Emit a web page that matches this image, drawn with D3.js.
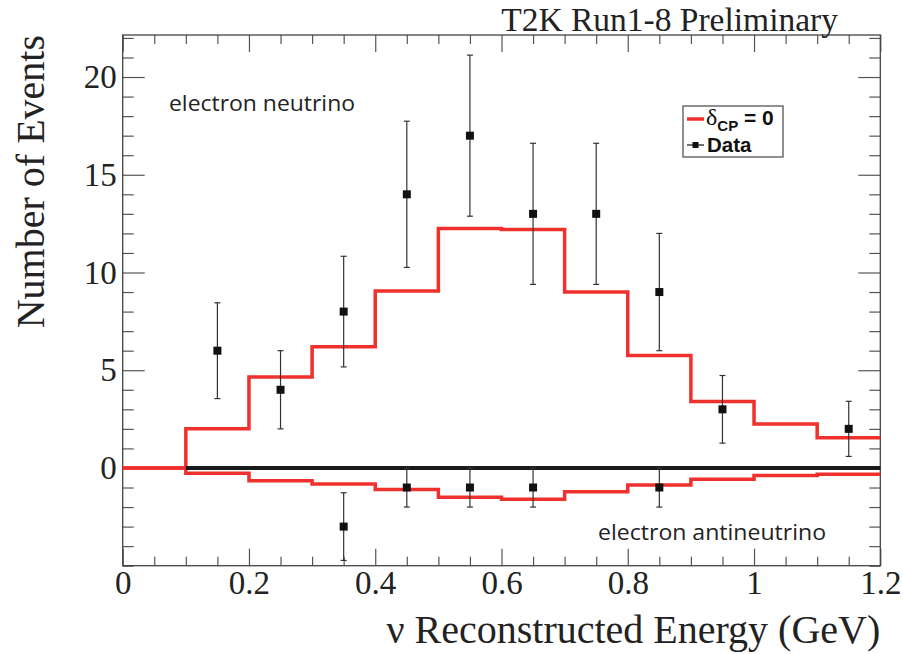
<!DOCTYPE html>
<html>
<head>
<meta charset="utf-8">
<script src="https://cdn.jsdelivr.net/npm/d3@7"></script>
<style>
  body { margin: 0; background: #fff; }
  svg { display: block; }
</style>
</head>
<body>
<svg id="viz" width="903" height="654"></svg>
<script>
// bin edges of the reconstructed energy histogram (GeV)
var binEdges = [0, 0.1, 0.2, 0.3, 0.4, 0.5, 0.6, 0.7, 0.8, 0.9, 1.0, 1.1, 1.2];

// expected events for deltaCP = 0 (antineutrino drawn as negative)
var nueExpected = [0, 2.0, 4.65, 6.2, 9.05, 12.25, 12.2, 9.0, 5.75, 3.4, 2.25, 1.55];
var nuebarExpected = [0, -0.27, -0.65, -0.82, -1.1, -1.5, -1.6, -1.22, -0.87, -0.58, -0.38, -0.32];

// observed data
var nueCenters = [0.15, 0.25, 0.35, 0.45, 0.55, 0.65, 0.75, 0.85, 0.95, 1.15];
var nueCounts = [6, 4, 8, 14, 17, 13, 13, 9, 3, 2];
var nueErrors = [2.45, 2.0, 2.83, 3.74, 4.12, 3.61, 3.61, 3.0, 1.73, 1.41];

var nuebarCenters = [0.35, 0.45, 0.55, 0.65, 0.85];
var nuebarCounts = [-3, -1, -1, -1, -1];
var nuebarErrors = [1.73, 1, 1, 1, 1];

// axis ticks
var xMajorTicks = [0, 0.2, 0.4, 0.6, 0.8, 1.0, 1.2];
var xTickLabels = ["0", "0.2", "0.4", "0.6", "0.8", "1", "1.2"];
var yMajorTicks = [0, 5, 10, 15, 20];
var yTickLabels = ["0", "5", "10", "15", "20"];

var width = 903;
var height = 654;
var margin = { left: 122.7, right: 22.7, top: 35, bottom: 88.3 };

var red = "#f0302c";
var serif = "'Liberation Serif', 'Times New Roman', serif";
var sans = "'Liberation Sans', Arial, sans-serif";

var svg = d3.select("#viz");

var x = d3.scaleLinear().domain([0, 1.2]).range([margin.left, width - margin.right]);
var y = d3.scaleLinear().domain([-5, 22.15]).range([height - margin.bottom, margin.top]);

var xMinor = d3.range(0, 1.2001, 0.05).map(function (d) { return +d.toFixed(2); })
	.filter(function (d) { return xMajorTicks.indexOf(d) < 0; });
var yMinor = d3.range(-5, 23, 1).filter(function (d) { return yMajorTicks.indexOf(d) < 0; });

function styleAxis(g) {
	g.select(".domain").remove();
	g.selectAll(".tick line").attr("stroke", "#555").attr("stroke-width", 1.2);
	g.selectAll(".tick text").attr("fill", "#222").style("font-family", serif).style("font-size", "33px");
}

// bottom axis with labels
svg.append("g")
	.attr("transform", "translate(0," + y.range()[0] + ")")
	.call(d3.axisBottom(x).tickValues(xMajorTicks).tickSizeInner(-17).tickSizeOuter(0).tickPadding(5)
		.tickFormat(function (d, i) { return xTickLabels[i]; }))
	.call(styleAxis);
svg.append("g")
	.attr("transform", "translate(0," + y.range()[0] + ")")
	.call(d3.axisBottom(x).tickValues(xMinor).tickSizeInner(-9).tickSizeOuter(0).tickFormat(""))
	.call(styleAxis);

// top axis, ticks only
svg.append("g")
	.attr("transform", "translate(0," + y.range()[1] + ")")
	.call(d3.axisTop(x).tickValues(xMajorTicks).tickSizeInner(-17).tickSizeOuter(0).tickFormat(""))
	.call(styleAxis);
svg.append("g")
	.attr("transform", "translate(0," + y.range()[1] + ")")
	.call(d3.axisTop(x).tickValues(xMinor).tickSizeInner(-9).tickSizeOuter(0).tickFormat(""))
	.call(styleAxis);

// left axis with labels
svg.append("g")
	.attr("transform", "translate(" + x.range()[0] + ",0)")
	.call(d3.axisLeft(y).tickValues(yMajorTicks).tickSizeInner(-22).tickSizeOuter(0).tickPadding(6)
		.tickFormat(function (d, i) { return yTickLabels[i]; }))
	.call(styleAxis);
svg.append("g")
	.attr("transform", "translate(" + x.range()[0] + ",0)")
	.call(d3.axisLeft(y).tickValues(yMinor).tickSizeInner(-11).tickSizeOuter(0).tickFormat(""))
	.call(styleAxis);

// right axis, ticks only
svg.append("g")
	.attr("transform", "translate(" + x.range()[1] + ",0)")
	.call(d3.axisRight(y).tickValues(yMajorTicks).tickSizeInner(-22).tickSizeOuter(0).tickFormat(""))
	.call(styleAxis);
svg.append("g")
	.attr("transform", "translate(" + x.range()[1] + ",0)")
	.call(d3.axisRight(y).tickValues(yMinor).tickSizeInner(-11).tickSizeOuter(0).tickFormat(""))
	.call(styleAxis);

// frame
svg.append("rect")
	.attr("x", x.range()[0]).attr("y", y.range()[1])
	.attr("width", x.range()[1] - x.range()[0])
	.attr("height", y.range()[0] - y.range()[1])
	.attr("fill", "none").attr("stroke", "#444").attr("stroke-width", 1.3);

// histograms
var step = d3.line()
	.x(function (d) { return x(d[0]); })
	.y(function (d) { return y(d[1]); })
	.curve(d3.curveStepAfter);

function histPoints(values) {
	var pts = values.map(function (v, i) { return [binEdges[i], v]; });
	pts.push([binEdges[binEdges.length - 1], values[values.length - 1]]);
	return pts;
}

[nuebarExpected, nueExpected].forEach(function (vals) {
	svg.append("path")
		.datum(histPoints(vals))
		.attr("d", step)
		.attr("fill", "none")
		.attr("stroke", red)
		.attr("stroke-width", 3.5)
		.attr("stroke-linejoin", "miter");
});

// zero line
svg.append("line")
	.attr("x1", x(0.1)).attr("x2", x(1.2))
	.attr("y1", y(0)).attr("y2", y(0))
	.attr("stroke", "#1a1a1a").attr("stroke-width", 4);

// data points with error bars
function drawData(centers, counts, errors) {
	var pts = centers.map(function (c, i) { return { x: c, v: counts[i], e: errors[i] }; });
	var g = svg.append("g");
	var cap = 3;
	g.selectAll("line.bar").data(pts).enter().append("line")
		.attr("x1", function (d) { return x(d.x); })
		.attr("x2", function (d) { return x(d.x); })
		.attr("y1", function (d) { return y(d.v - d.e); })
		.attr("y2", function (d) { return y(d.v + d.e); })
		.attr("stroke", "#333").attr("stroke-width", 1.2);
	["lo", "hi"].forEach(function (side) {
		g.selectAll("line." + side).data(pts).enter().append("line")
			.attr("x1", function (d) { return x(d.x) - cap; })
			.attr("x2", function (d) { return x(d.x) + cap; })
			.attr("y1", function (d) { return y(side === "lo" ? d.v - d.e : d.v + d.e); })
			.attr("y2", function (d) { return y(side === "lo" ? d.v - d.e : d.v + d.e); })
			.attr("stroke", "#333").attr("stroke-width", 1.2);
	});
	var s = 8;
	g.selectAll("rect").data(pts).enter().append("rect")
		.attr("x", function (d) { return x(d.x) - s / 2; })
		.attr("y", function (d) { return y(d.v) - s / 2; })
		.attr("width", s).attr("height", s)
		.attr("fill", "#111");
}
drawData(nueCenters, nueCounts, nueErrors);
drawData(nuebarCenters, nuebarCounts, nuebarErrors);

// titles
svg.append("text")
	.attr("x", 838).attr("y", 31)
	.attr("text-anchor", "end")
	.style("font-family", serif).style("font-size", "33.5px").attr("fill", "#222")
	.text("T2K Run1-8 Preliminary");

svg.append("text")
	.attr("x", x.range()[1]).attr("y", 643)
	.attr("text-anchor", "end")
	.style("font-family", serif).style("font-size", "40px").attr("fill", "#222")
	.text("ν Reconstructed Energy (GeV)");

svg.append("text")
	.attr("transform", "translate(44," + y.range()[1] + ") rotate(-90)")
	.attr("text-anchor", "end")
	.style("font-family", serif).style("font-size", "40px").attr("fill", "#222")
	.text("Number of Events");

// annotations
svg.append("text")
	.attr("x", 169).attr("y", 111)
	.attr("textLength", 186).attr("lengthAdjust", "spacingAndGlyphs")
	.style("font-family", "'Open Sans', sans-serif").style("font-size", "22px").attr("fill", "#222")
	.text("electron neutrino");

svg.append("text")
	.attr("x", 598).attr("y", 540)
	.attr("textLength", 228).attr("lengthAdjust", "spacingAndGlyphs")
	.style("font-family", "'Open Sans', sans-serif").style("font-size", "22px").attr("fill", "#222")
	.text("electron antineutrino");

// legend
var legend = svg.append("g").attr("transform", "translate(683,106)");
legend.append("rect")
	.attr("width", 100).attr("height", 51)
	.attr("fill", "#fff").attr("stroke", "#555").attr("stroke-width", 1.3);
legend.append("line")
	.attr("x1", 4).attr("x2", 21).attr("y1", 13).attr("y2", 13)
	.attr("stroke", red).attr("stroke-width", 3.5);
var t1 = legend.append("text").attr("x", 23).attr("y", 19).attr("fill", "#111");
t1.append("tspan").style("font-family", serif).style("font-size", "24px").text("δ");
t1.append("tspan").attr("dy", 6)
	.style("font-family", sans).style("font-weight", "bold").style("font-size", "15px")
	.text("CP");
t1.append("tspan").attr("dy", -6)
	.style("font-family", sans).style("font-weight", "bold").style("font-size", "21px")
	.text(" = 0");
legend.append("line")
	.attr("x1", 4).attr("x2", 21).attr("y1", 39).attr("y2", 39)
	.attr("stroke", "#111").attr("stroke-width", 1.2);
legend.append("rect")
	.attr("x", 9.5).attr("y", 36).attr("width", 6).attr("height", 6).attr("fill", "#111");
legend.append("text").attr("x", 24).attr("y", 46).attr("fill", "#111")
	.style("font-family", sans).style("font-weight", "bold").style("font-size", "20.5px")
	.text("Data");
</script>
</body>
</html>
